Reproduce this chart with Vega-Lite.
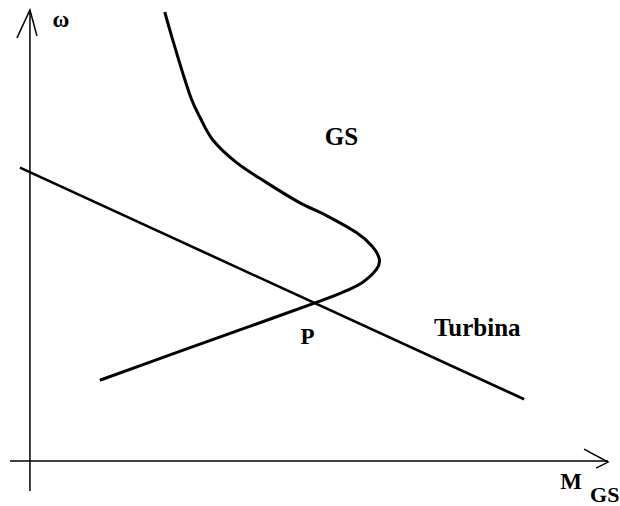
{
  "$schema": "https://vega.github.io/schema/vega-lite/v6.json",
  "width": 620,
  "height": 506,
  "autosize": {"type": "fit", "contains": "padding"},
  "padding": 0,
  "background": "white",
  "config": {"view": {"stroke": null}},
  "datasets": {
    "axes": [
      {"part": "omega_axis", "i": 0, "m": 30, "w": 14},
      {"part": "omega_axis", "i": 1, "m": 30, "w": 496},
      {"part": "m_axis", "i": 0, "m": 10, "w": 44},
      {"part": "m_axis", "i": 1, "m": 609, "w": 44},
      {"part": "omega_head", "i": 0, "m": 17, "w": 468},
      {"part": "omega_head", "i": 1, "m": 30, "w": 496},
      {"part": "omega_head", "i": 2, "m": 37, "w": 470},
      {"part": "m_head", "i": 0, "m": 585, "w": 56},
      {"part": "m_head", "i": 1, "m": 609, "w": 43},
      {"part": "m_head", "i": 2, "m": 597, "w": 37}
    ],
    "turbina": [
      {"i": 0, "m": 20, "w": 338},
      {"i": 1, "m": 525, "w": 106}
    ],
    "gs": [
      {"i": 0, "m": 165, "w": 494},
      {"i": 1, "m": 173, "w": 466},
      {"i": 2, "m": 183, "w": 433},
      {"i": 3, "m": 192, "w": 406},
      {"i": 4, "m": 200, "w": 389},
      {"i": 5, "m": 213, "w": 366},
      {"i": 6, "m": 237, "w": 343},
      {"i": 7, "m": 267, "w": 323},
      {"i": 8, "m": 300, "w": 303},
      {"i": 9, "m": 327, "w": 290},
      {"i": 10, "m": 357, "w": 273},
      {"i": 11, "m": 373, "w": 259},
      {"i": 12, "m": 380, "w": 246},
      {"i": 13, "m": 377, "w": 236},
      {"i": 14, "m": 363, "w": 223},
      {"i": 15, "m": 343, "w": 213},
      {"i": 16, "m": 317, "w": 203},
      {"i": 17, "m": 250, "w": 179},
      {"i": 18, "m": 180, "w": 154},
      {"i": 19, "m": 100, "w": 125}
    ]
  },
  "encoding": {
    "x": {"field": "m", "type": "quantitative", "scale": {"domain": [0, 620], "nice": false, "zero": false}, "axis": null},
    "y": {"field": "w", "type": "quantitative", "scale": {"domain": [0, 506], "nice": false, "zero": false}, "axis": null}
  },
  "layer": [
    {
      "data": {"name": "axes"},
      "mark": {"type": "line", "color": "black", "strokeWidth": 1.5},
      "encoding": {"detail": {"field": "part"}, "order": {"field": "i"}}
    },
    {
      "data": {"name": "turbina"},
      "mark": {"type": "line", "color": "black", "strokeWidth": 2.6},
      "encoding": {"order": {"field": "i"}}
    },
    {
      "data": {"name": "gs"},
      "mark": {"type": "line", "color": "black", "strokeWidth": 3, "interpolate": "cardinal"},
      "encoding": {"order": {"field": "i"}}
    },
    {
      "data": {"values": [{"label": "ω", "m": 61, "w": 479}]},
      "mark": {"type": "text", "font": "Liberation Serif", "fontWeight": "bold", "fontSize": 23, "baseline": "alphabetic", "color": "black"},
      "encoding": {"text": {"field": "label"}}
    },
    {
      "data": {"values": [
        {"label": "GS", "m": 342, "w": 361},
        {"label": "Turbina", "m": 478, "w": 169}
      ]},
      "mark": {"type": "text", "font": "Liberation Serif", "fontWeight": "bold", "fontSize": 25, "baseline": "alphabetic", "color": "black"},
      "encoding": {"text": {"field": "label"}}
    },
    {
      "data": {"values": [{"label": "P", "m": 308, "w": 161}]},
      "mark": {"type": "text", "font": "Liberation Serif", "fontWeight": "bold", "fontSize": 23, "baseline": "alphabetic", "color": "black"},
      "encoding": {"text": {"field": "label"}}
    },
    {
      "data": {"values": [{"label": "M", "m": 572, "w": 16}]},
      "mark": {"type": "text", "font": "Liberation Serif", "fontWeight": "bold", "fontSize": 23, "baseline": "alphabetic", "color": "black"},
      "encoding": {"text": {"field": "label"}}
    },
    {
      "data": {"values": [{"label": "GS", "m": 591, "w": 3}]},
      "mark": {"type": "text", "font": "Liberation Serif", "fontWeight": "bold", "fontSize": 22, "baseline": "alphabetic", "align": "left", "color": "black"},
      "encoding": {"text": {"field": "label"}}
    }
  ]
}
